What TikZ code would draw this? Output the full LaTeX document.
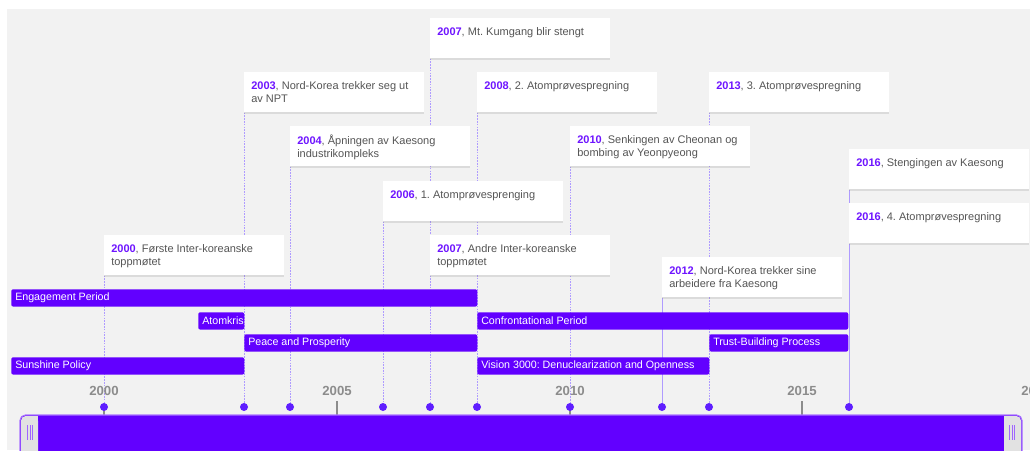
\documentclass[tikz,border=0pt]{standalone}
\usepackage{fontspec}
\setmainfont{Liberation Sans}
\usetikzlibrary{shadows}
\frenchspacing
\definecolor{main}{RGB}{98,0,255}
\definecolor{yrcol}{RGB}{110,20,255}
\definecolor{bg}{RGB}{242,242,242}
\definecolor{txt}{RGB}{85,85,85}
\definecolor{guide}{RGB}{175,155,255}
\definecolor{axisg}{RGB}{140,140,140}
\definecolor{handle}{RGB}{226,226,226}
\definecolor{dotc}{RGB}{95,30,255}
\newcommand\evyr[1]{\textcolor{yrcol}{\bfseries #1}}
\pgfdeclarelayer{bgl}
\pgfdeclarelayer{gl}
\pgfsetlayers{bgl,gl,main}
\begin{document}
\begin{tikzpicture}[x=0.75pt,y=-0.75pt,
  evbox/.style={fill=white, anchor=north west, minimum width=135pt, minimum height=30pt, inner sep=0,
    drop shadow={shadow xshift=0pt, shadow yshift=-1pt, opacity=0.2}},
  evtext/.style={anchor=north west, inner sep=0, font=\fontsize{8.25}{9.75}\selectfont, text=txt, align=left},
  guide/.style={draw=guide, line width=0.55pt, dash pattern=on 1.2pt off 0.9pt},
  guideS/.style={draw=guide, line width=0.6pt},
  dot/.style={circle, fill=dotc, inner sep=0, minimum size=6pt},
  bar/.style={fill=main, rounded corners=1.5pt, anchor=north west, inner sep=0, minimum height=13pt},
  barlbl/.style={anchor=west, text=white, font=\fontsize{8}{9}\selectfont, inner sep=0},
  yearlbl/.style={text=axisg, font=\fontsize{9.9}{11}\selectfont\bfseries, inner sep=0},
  tick/.style={draw=axisg, line width=0.8pt}]
\useasboundingbox (0,0) rectangle (1030,450);
\begin{pgfonlayer}{bgl}
\fill[bg] (7,9) rectangle (1030,450);
\end{pgfonlayer}

% dot positions
\coordinate (p2000) at (104,407);
\coordinate (p2003) at (244,407);
\coordinate (p2004) at (290,407);
\coordinate (p2006) at (383,407);
\coordinate (p2007) at (430,407);
\coordinate (p2008) at (477,407);
\coordinate (p2010) at (570,407);
\coordinate (p2012) at (662,407);
\coordinate (p2013) at (709,407);
\coordinate (p2016) at (849,407);

% axis ticks
\draw[tick] (104,407) -- (104,415);
\draw[tick] (337,401) -- (337,415);
\draw[tick] (570,407) -- (570,415);
\draw[tick] (802,401) -- (802,415);
\node[yearlbl] (y2000) at (104,391) {2000};
\node[yearlbl] (y2005) at (337,391) {2005};
\node[yearlbl] (y2010) at (570,391) {2010};
\node[yearlbl] (y2015) at (802,391) {2015};
\node[yearlbl] (y2020) at (1036,391) {2020};

% event boxes
\node[evbox] (kum) at (430,18) {};
\node[evbox] (npt) at (244,72) {};
\node[evbox] (at2) at (477,72) {};
\node[evbox] (at3) at (709,72) {};
\node[evbox] (kae) at (290,126) {};
\node[evbox] (che) at (570,126) {};
\node[evbox] (stg) at (849,149) {};
\node[evbox] (at1) at (383,181) {};
\node[evbox] (at4) at (849,203) {};
\node[evbox] (ts1) at (104,235) {};
\node[evbox] (ts2) at (430,235) {};
\node[evbox] (arb) at (662,257) {};

% guides (behind boxes)
\begin{pgfonlayer}{gl}
\draw[guide] (ts1.south west) -- (p2000);
\draw[guide] (npt.south west) -- (p2003);
\draw[guide] (kae.south west) -- (p2004);
\draw[guide] (at1.south west) -- (p2006);
\draw[guide] (kum.south west) -- (ts2.north west);
\draw[guide] (ts2.south west) -- (p2007);
\draw[guide] (at2.south west) -- (p2008);
\draw[guide] (che.south west) -- (p2010);
\draw[guideS] (arb.south west) -- (p2012);
\draw[guide] (at3.south west) -- (p2013);
\draw[guideS] (stg.south west) -- (at4.north west);
\draw[guideS] (at4.south west) -- (p2016);
\end{pgfonlayer}

% box texts
\node[evtext] (tkum) at ([shift={(7,9)}]kum.north west) {\evyr{2007}, Mt. Kumgang blir stengt};
\node[evtext] (tnpt) at ([shift={(7,9)}]npt.north west) {\evyr{2003}, Nord-Korea trekker seg ut\\av NPT};
\node[evtext] (tat2) at ([shift={(7,9)}]at2.north west) {\evyr{2008}, 2. Atomprøvespregning};
\node[evtext] (tat3) at ([shift={(7,9)}]at3.north west) {\evyr{2013}, 3. Atomprøvespregning};
\node[evtext] (tkae) at ([shift={(7,9)}]kae.north west) {\evyr{2004}, Åpningen av Kaesong\\industrikompleks};
\node[evtext] (tche) at ([shift={(7,9)}]che.north west) {\evyr{2010}, Senkingen av Cheonan og\\bombing av Yeonpyeong};
\node[evtext] (tstg) at ([shift={(7,9)}]stg.north west) {\evyr{2016}, Stengingen av Kaesong};
\node[evtext] (tat1) at ([shift={(7,9)}]at1.north west) {\evyr{2006}, 1. Atomprøvesprenging};
\node[evtext] (tat4) at ([shift={(7,9)}]at4.north west) {\evyr{2016}, 4. Atomprøvespregning};
\node[evtext] (tts1) at ([shift={(7,9)}]ts1.north west) {\evyr{2000}, Første Inter-koreanske\\toppmøtet};
\node[evtext] (tts2) at ([shift={(7,9)}]ts2.north west) {\evyr{2007}, Andre Inter-koreanske\\toppmøtet};
\node[evtext] (tarb) at ([shift={(7,9)}]arb.north west) {\evyr{2012}, Nord-Korea trekker sine\\arbeidere fra Kaesong};

% period bars
\node[bar, minimum width=466*0.75pt] (eng) at (11,289) {};
\node[bar, minimum width=46*0.75pt] (atk) at (198,312) {};
\node[bar, minimum width=371*0.75pt] (con) at (477,312) {};
\node[bar, minimum width=233*0.75pt] (pea) at (244,334) {};
\node[bar, minimum width=139*0.75pt] (tru) at (709,334) {};
\node[bar, minimum width=233*0.75pt] (sun) at (11,357) {};
\node[bar, minimum width=232*0.75pt] (vis) at (477,357) {};
\node[barlbl] (leng) at ([xshift=3]eng.west) {Engagement Period};
\node[barlbl] (latk) at ([xshift=3]atk.west) {Atomkris};
\node[barlbl] (lcon) at ([xshift=3]con.west) {Confrontational Period};
\node[barlbl] (lpea) at ([xshift=3]pea.west) {Peace and Prosperity};
\node[barlbl] (ltru) at ([xshift=3]tru.west) {Trust-Building Process};
\node[barlbl] (lsun) at ([xshift=3]sun.west) {Sunshine Policy};
\node[barlbl] (lvis) at ([xshift=3]vis.west) {Vision 3000: Denuclearization and Openness};

% dots
\foreach \p in {2000,2003,2004,2006,2007,2008,2010,2012,2013,2016}
  \node[dot] (d\p) at (p\p) {};

% slider
\draw[fill=main, draw=main!55!white, line width=0.8pt, rounded corners=4pt] (20,415) rectangle (1022,470);
\fill[handle, rounded corners=3.5pt] (21,416) rectangle (38,470);
\fill[handle] (30,416) rectangle (38,470);
\fill[handle, rounded corners=3.5pt] (1004,416) rectangle (1021,470);
\fill[handle] (1004,416) rectangle (1012,470);
\foreach \x in {27.5,30,32.5} \draw[main!60!white, line width=0.7pt] (\x,425) -- (\x,440);
\foreach \x in {1009.5,1012,1014.5} \draw[main!60!white, line width=0.7pt] (\x,425) -- (\x,440);
\end{tikzpicture}
\end{document}
